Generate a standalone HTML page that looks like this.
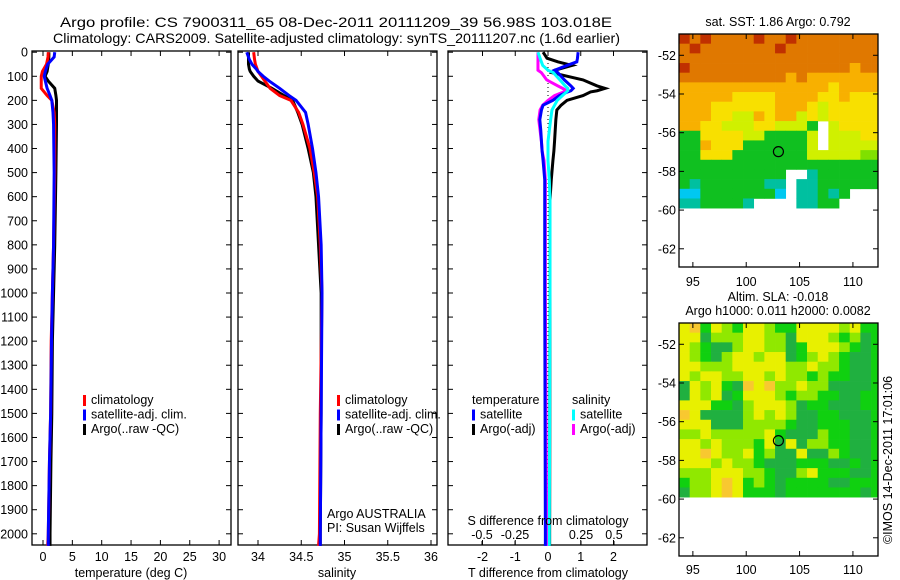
<!DOCTYPE html>
<html><head><meta charset="utf-8"><style>
html,body{margin:0;padding:0;background:#fff}
svg{display:block}
text{font-family:"Liberation Sans",sans-serif;font-size:12.5px;fill:#000}
</style></head><body>
<svg id="fig" width="900" height="580" xmlns="http://www.w3.org/2000/svg">
<text x="60" y="27" textLength="552" lengthAdjust="spacingAndGlyphs" style="font-size:14px">Argo profile: CS 7900311_65 08-Dec-2011 20111209_39 56.98S 103.018E</text>
<text x="53" y="43" textLength="567" lengthAdjust="spacingAndGlyphs" style="font-size:14px">Climatology: CARS2009. Satellite-adjusted climatology: synTS_20111207.nc (1.6d earlier)</text>
<g id="g"></g>
</svg>
<script>
// ---- profile data ----
const tDepth=[0,20,50,80,100,120,150,180,200,250,300,500,800,1000,1200,1500,1700,2000,2050];
const tClim=[0.9,0.85,0.6,-0.1,-0.3,-0.3,-0.3,0.7,1.5,1.9,2.0,2.0,1.8,1.6,1.4,1.3,1.1,0.9,0.8];
const tSat=[2.0,1.9,0.8,0.4,0.2,0.4,0.7,1.2,1.5,1.7,1.8,1.9,1.8,1.6,1.45,1.3,1.1,0.9,0.9];
const tArgo=[1.0,1.0,0.9,0.7,0.35,0.9,2.0,2.2,2.3,2.3,2.3,2.2,2.0,1.8,1.6,1.5,1.35,1.2,1.2];
const sDepth=[0,30,50,70,80,100,120,150,180,200,250,300,400,500,600,800,1000,1500,2000,2050];
const sClim=[33.95,33.96,33.97,33.99,34.0,34.04,34.08,34.14,34.25,34.38,34.47,34.52,34.6,34.65,34.69,34.72,34.74,34.72,34.71,34.7];
const sSat=[33.87,33.9,33.93,33.98,34.0,34.06,34.13,34.25,34.36,34.44,34.55,34.58,34.63,34.67,34.7,34.73,34.74,34.73,34.72,34.72];
const sArgo=[33.89,33.89,33.89,33.9,33.91,33.95,34.0,34.16,34.3,34.4,34.46,34.51,34.58,34.64,34.67,34.7,34.73,34.73,34.72,34.72];
const dDepth=[0,25,40,55,75,85,115,140,150,160,165,180,200,220,240,280,325,370,410,450,530,615,1000,2000,2050];
const dTsat=[0.92,0.9,0.88,0.58,0.2,0.3,0.5,0.7,0.77,0.7,0.6,0.35,0.15,-0.15,-0.2,-0.25,-0.22,-0.2,-0.18,-0.15,-0.1,-0.1,-0.1,-0.08,-0.08];
const dTargo=[-0.15,-0.03,0.3,0.73,0.2,0.12,1.07,1.5,1.74,1.5,1.3,1.07,0.58,0.4,0.27,0.24,0.22,0.2,0.18,0.15,0.1,0.06,0.06,0.05,0.05];
const dSsat=[-0.076,-0.06,-0.05,-0.04,0.0,0.04,0.09,0.13,0.15,0.15,0.14,0.11,0.07,0.05,0.03,0.02,0.01,0.0,0.0,0.0,0.01,0.015,0.015,0.01,0.01];
const dSargo=[-0.076,-0.076,-0.076,-0.076,-0.076,-0.05,-0.01,0.075,0.11,0.14,0.12,0.05,0.0,-0.04,-0.06,-0.07,-0.06,-0.05,-0.045,-0.03,-0.02,-0.02,-0.02,-0.01,-0.01];
// ---- map data ----
const sstRows=["9898888988988888888","8988888889888888888","8888888888888888888","9888888888888888788","8888888888787777777","7777777777777767777","7777766667777667666","7776666667776566666","7776655767756566666","7766555665553.56666","3366665533335.55566","3376663333335.55555","3366633333335555544","3333333333333333333","3333333333..2333333","3233333322.22333333","1133333331.22323...","2233332....2233...."];
const slaRows=["3413213321133332311","3302223322033321201","3210023322013332101","3210233233012321001","3322233333223221001","3233223323221211001","0323104342232200001","0323013332122110011","3331102333201100011","4300002323200110001","3330002222100111001","2232222231000211001","3323222130302211001","3343223120030021001","3332322100011100101","2223332210023111001","1223431210111100111","0223431110111111101"];
const argoLon=103.018, argoLat=-56.98;
const depthTicks=[0,100,200,300,400,500,600,700,800,900,1000,1100,1200,1300,1400,1500,1600,1700,1800,1900,2000];
const tTicks=[0,5,10,15,20,25,30];
const sTicks=[34,34.5,35,35.5,36];
const sTickLabels=["34","34.5","35","35.5","36"];
const dTTicks=[-2,-1,0,1,2];
const dSTicks=[-0.5,-0.25,0,0.25,0.5];
const dSTickLabels=["-0.5","-0.25","0","0.25","0.5"];
const lonTicks=[95,100,105,110];
const latTicks=[-52,-54,-56,-58,-60,-62];

const NS="http://www.w3.org/2000/svg";
const G=document.getElementById('g');
function mk(tag,attrs,parent){const e=document.createElementNS(NS,tag);for(const k in attrs)e.setAttribute(k,attrs[k]);(parent||G).appendChild(e);return e;}
function txt(x,y,s,anchor,parent){const t=mk('text',{x:x,y:y,'text-anchor':anchor||'start'},parent);t.textContent=s;return t;}
const yD=d=>52.2+d*0.2408;
const Y0=51, Y1=545;
function panel(x0,x1,name){
  const g=mk('g',{});
  
  
  mk('rect',{x:x0,y:Y0,width:x1-x0,height:Y1-Y0,fill:'none',stroke:'#000','stroke-width':1.3},g);
  return g;
}
function series(g,xs,ds,xf,col,name){
  const p=mk('polyline',{points:xs.map((v,i)=>xf(v)+','+yD(ds[i])).join(' '),fill:'none',stroke:col,'stroke-width':3},g);
  
  
}
function xTicks(g,vals,labels,xf,x0,x1,ly){
  vals.forEach((v,i)=>{const x=xf(v);mk('line',{x1:x,y1:Y1,x2:x,y2:Y1-5,stroke:'#000'},g);mk('line',{x1:x,y1:Y0,x2:x,y2:Y0+5,stroke:'#000'},g);
    const t=txt(x,ly,labels[i],'middle',g);});
}
function yTicks(g,x0,x1,labels){
  depthTicks.forEach(d=>{const y=yD(d);mk('line',{x1:x0,y1:y,x2:x0+5,y2:y,stroke:'#000'},g);mk('line',{x1:x1,y1:y,x2:x1-5,y2:y,stroke:'#000'},g);
    if(labels){const t=txt(x0-4,y+4.5,String(d),'end',g);}});
}
function legend(g,x,y,items){
  items.forEach((it,i)=>{
    if(it[0])mk('rect',{x:x,y:y+i*14.5-9,width:3,height:11,fill:it[0]},g);
    const t=txt(x+(it[0]?8:0),y+i*14.5,it[1],'start',g);
    
    
  });
}
// Panel 1 temperature
const xT=v=>43+v*5.87;
let p1=panel(32,231,'temperature-panel');
yTicks(p1,32,231,true);
xTicks(p1,tTicks,tTicks.map(String),xT,32,231,561);
series(p1,tArgo,tDepth,xT,'#000','argo-temp-line');
series(p1,tClim,tDepth,xT,'#f00','clim-temp-line');
series(p1,tSat,tDepth,xT,'#00f','sat-temp-line');
legend(p1,83,404,[['#f00','climatology'],['#00f','satellite-adj. clim.'],['#000','Argo(..raw -QC)']]);
let a=txt(131,577,'temperature (deg C)','middle',p1);
// Panel 2 salinity
const xS=v=>258+(v-34)*86.5;
let p2=panel(238,437,'salinity-panel');
yTicks(p2,238,437,false);
xTicks(p2,sTicks,sTickLabels,xS,238,437,561);
series(p2,sArgo,sDepth,xS,'#000','argo-sal-line');
series(p2,sClim,sDepth,xS,'#f00','clim-sal-line');
series(p2,sSat,sDepth,xS,'#00f','sat-sal-line');
legend(p2,337,404,[['#f00','climatology'],['#00f','satellite-adj. clim.'],['#000','Argo(..raw -QC)']]);
txt(327,518,'Argo AUSTRALIA','start',p2);txt(327,532,'PI: Susan Wijffels','start',p2);
a=txt(337,577,'salinity','middle',p2);
// Panel 3 differences
const xDT=v=>548+v*32.75, xDS=v=>548+v*132;
let p3=panel(448,647,'difference-panel');
yTicks(p3,448,647,false);
xTicks(p3,dTTicks,dTTicks.map(String),xDT,448,647,561);
dSTicks.forEach((v,i)=>{const x=xDS(v);mk('line',{x1:x,y1:Y1,x2:x,y2:Y1-4,stroke:'#000'},p3);txt(x,539,dSTickLabels[i],'middle',p3);});
mk('line',{x1:548,y1:Y0,x2:548,y2:Y1,stroke:'#000','stroke-dasharray':'1,3'},p3);
series(p3,dTargo,dDepth,xDT,'#000','argo-tdiff-line');
series(p3,dSargo,dDepth,xDS,'#f0f','argo-sdiff-line');
series(p3,dTsat,dDepth,xDT,'#00f','sat-tdiff-line');
series(p3,dSsat,dDepth,xDS,'#0ff','sat-sdiff-line');
legend(p3,472,404,[[null,'temperature'],['#00f','satellite'],['#000','Argo(-adj)']]);
legend(p3,572,404,[[null,'salinity'],['#0ff','satellite'],['#f0f','Argo(-adj)']]);
txt(548,525,'S difference from climatology','middle',p3);
a=txt(548,577,'T difference from climatology','middle',p3);
// Maps
const sstCols=['#0070ff','#00c8f0','#00c0a0','#10c020','#80e000','#d0f000','#f8e000','#f8b000','#e07800','#c03000'];
const slaCols=['#20b040','#10d010','#90e800','#e8f000','#f8c830'];
function map(top,rows,cols,name,xl){
  const L=679,R=878,B=top+233;
  const lonX=lo=>L+(lo-93.7)*10.67, latY=la=>top+(-50.9-la)*19.35;
  const g=mk('g',{});
  
  
  rows.forEach((r,i)=>{[...r].forEach((c,j)=>{if(c==='.')return;
    const x=lonX(93.7+j),y=latY(-50.9-i*0.5);
    const cell=mk('rect',{x:x,y:y,width:11,height:10,fill:cols[+c]},g);
    
    });});
  mk('rect',{x:R,y:top,width:20,height:B-top,fill:'#fff'},g);
  mk('rect',{x:L,y:top,width:R-L,height:B-top,fill:'none',stroke:'#000','stroke-width':1.3},g);
  lonTicks.forEach(lo=>{const x=lonX(lo);mk('line',{x1:x,y1:B,x2:x,y2:B-5,stroke:'#000'},g);mk('line',{x1:x,y1:top,x2:x,y2:top+5,stroke:'#000'},g);txt(x,xl,String(lo),'middle',g);});
  latTicks.forEach(la=>{const y=latY(la);mk('line',{x1:L,y1:y,x2:L+5,y2:y,stroke:'#000'},g);mk('line',{x1:R,y1:y,x2:R-5,y2:y,stroke:'#000'},g);txt(L-3,y+4.5,String(la),'end',g);});
  const m=mk('circle',{cx:lonX(argoLon),cy:latY(argoLat),r:5,fill:'none',stroke:'#000','stroke-width':1.2},g);
  
  
}
txt(778,26,'sat. SST: 1.86 Argo: 0.792','middle');
map(34,sstRows,sstCols,'sst-map',286);
txt(778,301,'Altim. SLA: -0.018','middle');
txt(778,315,'Argo h1000: 0.011 h2000: 0.0082','middle');
map(323,slaRows,slaCols,'sla-map',574);
const cr=txt(0,0,'©IMOS 14-Dec-2011 17:01:06','middle');
cr.setAttribute('transform','translate(892,460) rotate(-90)');


</script>
</body></html>
